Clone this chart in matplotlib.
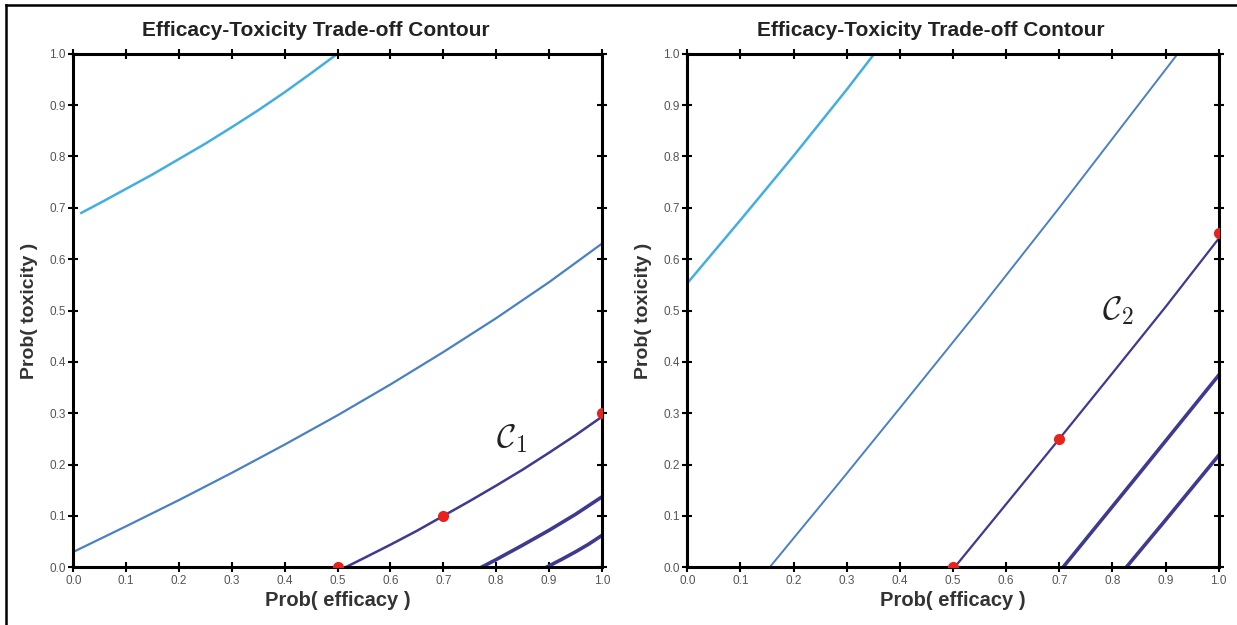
import matplotlib
matplotlib.use("Agg")
import matplotlib.pyplot as plt
from matplotlib.lines import Line2D

plt.rcParams['font.family'] = ['Liberation Sans', 'DejaVu Sans']
plt.rcParams['mathtext.fontset'] = 'cm'

# colours of the contour levels
LIGHT = '#45aee0'
MID = '#4a80c4'
DARK = '#3e3a8f'
RED = '#e8221c'

# ---- left panel: contours ----
l_light_x = [0.015, 0.05, 0.1, 0.15, 0.2, 0.25, 0.3, 0.35, 0.4, 0.45, 0.5]
l_light_y = [0.69, 0.709, 0.737, 0.765, 0.795, 0.825, 0.857, 0.89, 0.925, 0.962, 1.0]

l_mid_x = [0.0, 0.1, 0.2, 0.3, 0.4, 0.5, 0.6, 0.7, 0.8, 0.9, 1.0]
l_mid_y = [0.03, 0.08, 0.131, 0.184, 0.239, 0.296, 0.356, 0.419, 0.485, 0.555, 0.63]

l_c1_x = [0.515, 0.55, 0.6, 0.65, 0.7, 0.75, 0.8, 0.85, 0.9, 0.95, 1.0]
l_c1_y = [0.0, 0.018, 0.044, 0.071, 0.1, 0.129, 0.159, 0.19, 0.223, 0.257, 0.293]

l_d_x = [0.772, 0.8, 0.85, 0.9, 0.95, 1.0]
l_d_y = [0.0, 0.015, 0.043, 0.072, 0.103, 0.137]

l_e_x = [0.895, 0.925, 0.95, 0.975, 1.0]
l_e_y = [0.0, 0.016, 0.03, 0.045, 0.062]

l_pts_x = [0.5, 0.7, 1.0]
l_pts_y = [0.0, 0.1, 0.3]

# ---- right panel ----
r_light_x = [0.0, 0.1, 0.2, 0.3, 0.352]
r_light_y = [0.553, 0.676, 0.801, 0.93, 1.0]

r_mid_x = [0.155, 0.287, 0.4, 0.548, 0.7, 0.923]
r_mid_y = [0.0, 0.166, 0.31, 0.5, 0.7, 1.0]

r_c2_x = [0.503, 0.6, 0.7, 0.8, 0.9, 1.0]
r_c2_y = [0.0, 0.123, 0.25, 0.378, 0.507, 0.64]

r_d_x = [0.707, 0.85, 1.0]
r_d_y = [0.0, 0.182, 0.374]

r_e_x = [0.826, 0.9, 1.0]
r_e_y = [0.0, 0.092, 0.218]

r_pts_x = [0.5, 0.7, 1.0]
r_pts_y = [0.0, 0.25, 0.65]

ticks = [0.0, 0.1, 0.2, 0.3, 0.4, 0.5, 0.6, 0.7, 0.8, 0.9, 1.0]
tick_labels = ['%.1f' % t for t in ticks]


def style_axes(ax):
    ax.set_xlim(0, 1)
    ax.set_ylim(0, 1)
    ax.set_xticks(ticks)
    ax.set_yticks(ticks)
    ax.set_xticklabels(tick_labels)
    ax.set_yticklabels(tick_labels)
    for s in ax.spines.values():
        s.set_linewidth(2.2)
    ax.tick_params(axis='both', which='major', direction='inout', length=7,
                   width=1.5, labelsize=8.5, labelcolor='#555555', pad=2,
                   top=True, right=True)
    ax.set_title('Efficacy-Toxicity Trade-off Contour', fontsize=15,
                 fontweight='bold', color='#222222', pad=13, x=0.458)
    ax.set_xlabel('Prob( efficacy )', fontsize=14.5, fontweight='bold',
                  color='#333333', labelpad=3)
    ax.set_ylabel('Prob( toxicity )', fontsize=14, fontweight='bold',
                  color='#333333')
    ax.yaxis.set_label_coords(-0.066, 0.5)


fig = plt.figure(figsize=(12.37, 6.25), dpi=100)
ax1 = fig.add_axes([0.0593, 0.0923, 0.4272, 0.8218])
ax2 = fig.add_axes([0.5556, 0.0923, 0.4296, 0.8218])

# left
ax1.plot(l_light_x, l_light_y, color=LIGHT, lw=1.8)
ax1.plot(l_mid_x, l_mid_y, color=MID, lw=1.6)
ax1.plot(l_c1_x, l_c1_y, color=DARK, lw=1.8)
ax1.plot(l_d_x, l_d_y, color=DARK, lw=2.6)
ax1.plot(l_e_x, l_e_y, color=DARK, lw=2.6)
ax1.plot(l_pts_x, l_pts_y, 'o', color=RED, ms=7, zorder=3)
ax1.text(0.83, 0.25, r'$\mathcal{C}_1$', fontsize=24, ha='center',
         va='center', color='#222222')
style_axes(ax1)

# right
ax2.plot(r_light_x, r_light_y, color=LIGHT, lw=1.8)
ax2.plot(r_mid_x, r_mid_y, color=MID, lw=1.4)
ax2.plot(r_c2_x, r_c2_y, color=DARK, lw=1.6)
ax2.plot(r_d_x, r_d_y, color=DARK, lw=2.6)
ax2.plot(r_e_x, r_e_y, color=DARK, lw=2.6)
ax2.plot(r_pts_x, r_pts_y, 'o', color=RED, ms=7, zorder=3)
ax2.text(0.81, 0.50, r'$\mathcal{C}_2$', fontsize=24, ha='center',
         va='center', color='#222222')
style_axes(ax2)

# frame on the top and left edge of the picture
fig.add_artist(Line2D([0.005, 0.005], [0, 0.992], color='black', lw=1.8,
                      transform=fig.transFigure))
fig.add_artist(Line2D([0.005, 1.0], [0.992, 0.992], color='black', lw=1.8,
                      transform=fig.transFigure))

fig.savefig('out.png', dpi=100)
